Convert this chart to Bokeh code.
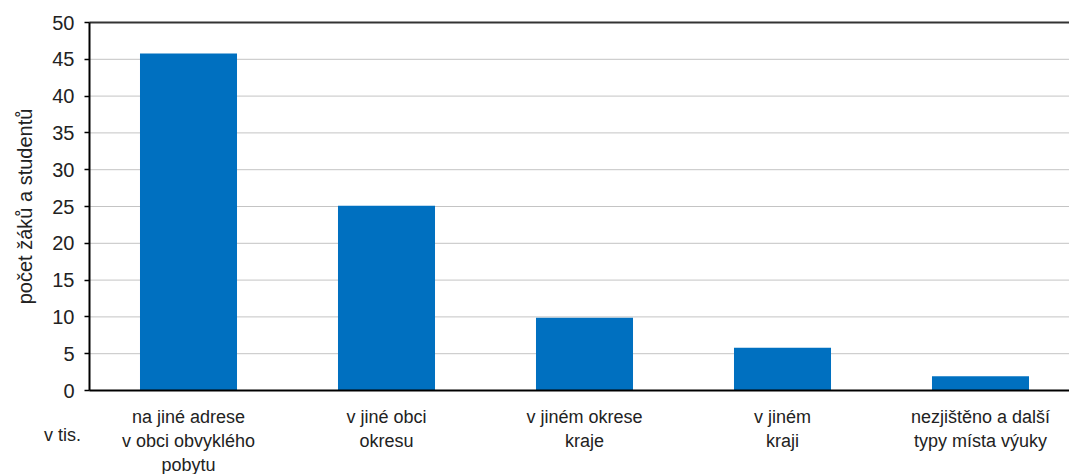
from bokeh.plotting import figure
from bokeh.models import Range1d, FixedTicker, Label, ColumnDataSource
from bokeh.embed import file_html
from bokeh.resources import INLINE

categories = ["na jiné adrese\nv obci obvyklého\npobytu", "v jiné obci\nokresu",
              "v jiném okrese\nkraje", "v jiném\nkraji", "nezjištěno a další\ntypy místa výuky"]
values = [45.8, 25.1, 9.9, 5.8, 1.95]
y_ticks = list(range(0, 51, 5))
y_label = "počet žáků a studentů"
unit_label = "v tis."

FONT = "Liberation Sans"
BLUE = "#0070C0"
TXT = "#222222"

# pixel layout of the canvas (frame covers whole canvas, axes are placed inside it)
W, H = 1069, 474
AX_LEFT, AX_TOP, AX_BOTTOM = 89, 22, 390
CAT_PX = 198.0
x_px = CAT_PX
y_px = (AX_BOTTOM - AX_TOP) / (y_ticks[-1] - y_ticks[0])
x0 = -0.5 - AX_LEFT / x_px
x1 = -0.5 + (W - AX_LEFT) / x_px
y0 = y_ticks[0] - (H - AX_BOTTOM) / y_px
y1 = y_ticks[-1] + AX_TOP / y_px

p = figure(width=W, height=H, output_backend="svg", toolbar_location=None,
           x_range=Range1d(x0, x1), y_range=Range1d(y0, y1),
           min_border_left=0, min_border_right=0, min_border_top=0, min_border_bottom=0)
p.outline_line_color = None
p.background_fill_color = "white"
p.border_fill_color = "white"
p.xgrid.visible = False
p.ygrid.visible = False

# gridlines
p.segment(x0=[-0.5] * (len(y_ticks) - 1), x1=[x1] * (len(y_ticks) - 1),
          y0=y_ticks[:-1], y1=y_ticks[:-1], line_color="#C4C4C4", line_width=1)
p.segment(x0=[-0.5], x1=[x1], y0=[y_ticks[-1]], y1=[y_ticks[-1]],
          line_color="#333333", line_width=2)

xs = list(range(len(categories)))
src = ColumnDataSource(dict(x=xs, top=values))
p.vbar(x="x", top="top", width=0.49, bottom=0, source=src, fill_color=BLUE, line_color=None)

xa = p.xaxis[0]
xa.fixed_location = 0
xa.bounds = (-0.5, x1)
xa.ticker = FixedTicker(ticks=xs)
xa.major_label_overrides = {i: c for i, c in zip(xs, categories)}
xa.axis_line_color = "black"
xa.axis_line_width = 2
xa.major_tick_line_color = None
xa.minor_tick_line_color = None
xa.major_tick_out = 0
xa.major_tick_in = 0
xa.major_label_standoff = 16
xa.major_label_text_font = FONT
xa.major_label_text_font_size = "18px"
xa.major_label_text_color = TXT

ya = p.yaxis[0]
ya.fixed_location = -0.5
ya.bounds = (y_ticks[0], y_ticks[-1])
ya.ticker = FixedTicker(ticks=y_ticks)
ya.axis_line_color = "black"
ya.axis_line_width = 2
ya.major_tick_line_color = "black"
ya.major_tick_line_width = 1.5
ya.major_tick_out = 5
ya.major_tick_in = 0
ya.minor_tick_line_color = None
ya.major_label_standoff = 10
ya.major_label_text_font = FONT
ya.major_label_text_font_size = "20px"
ya.major_label_text_color = TXT
ya.axis_label = y_label
ya.axis_label_text_font = FONT
ya.axis_label_text_font_size = "20px"
ya.axis_label_text_font_style = "normal"
ya.axis_label_text_color = TXT
ya.axis_label_standoff = 13

p.add_layout(Label(x=-0.5 - 27 / x_px, y=-44 / y_px, text=unit_label,
                   text_align="center", text_baseline="middle", text_font=FONT,
                   text_font_size="18px", text_color=TXT))

open("out.html", "w").write(file_html(p, INLINE))
